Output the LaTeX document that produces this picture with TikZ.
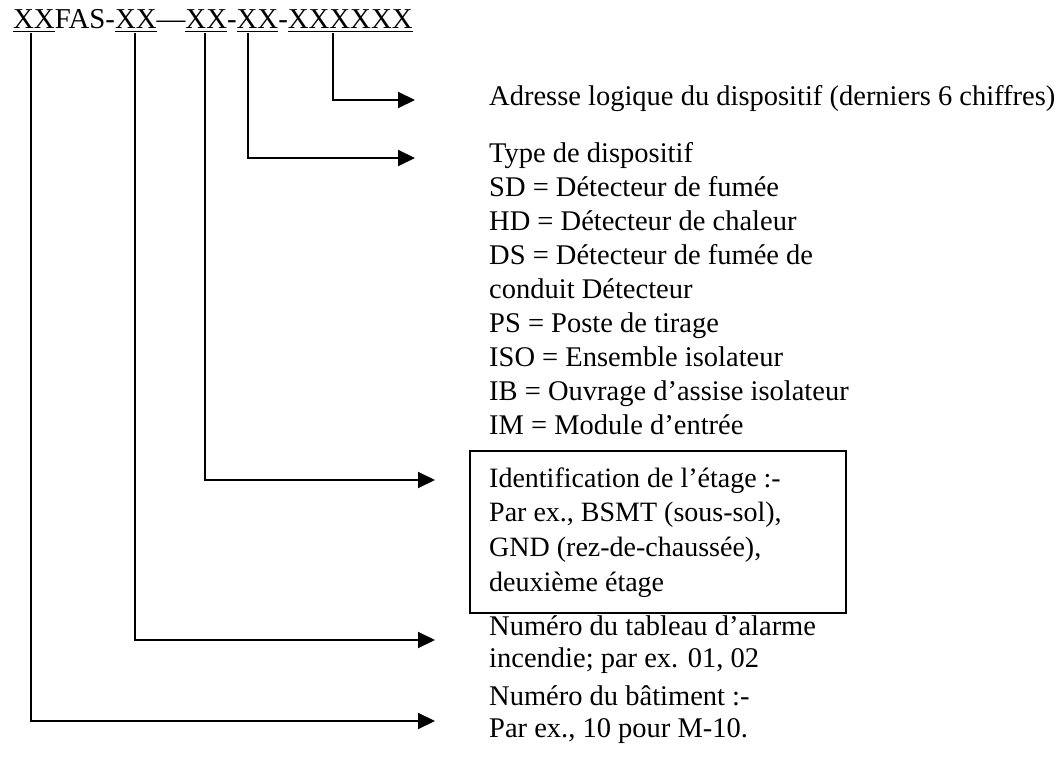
\documentclass[tikz,border=0pt]{standalone}
\usepackage{fontspec}
\setmainfont{Liberation Serif}
\usetikzlibrary{arrows.meta}
\newcommand{\uln}[1]{\setbox0\hbox{#1}\rlap{\rule[-3.5pt]{\wd0}{1.2pt}}\box0}
\newcommand{\linesA}[1]{\vtop{\halign{##\hfil\cr#1\crcr}}}
\begin{document}
\begin{tikzpicture}[x=1pt,y=-1pt,
  txt/.style={inner sep=0pt, anchor=base west, font=\fontsize{28.5}{34}\selectfont},
  txtb/.style={txt, font=\fontsize{28}{34.7}\selectfont},
  txtc/.style={txt, font=\fontsize{28.5}{32}\selectfont},
  conn/.style={-{Triangle[length=17pt,width=16pt]}, line width=2pt},
  framebox/.style={draw, line width=2pt, inner sep=0pt, minimum width=376pt, minimum height=162pt, anchor=north west}]
\useasboundingbox (0,0) rectangle (1062,757);
% code string
\node[txt, font=\fontsize{28.8}{34}\selectfont] (code) at (13,29) {\uln{XX}FAS-\uln{XX}—\uln{XX}-\uln{XX}-\uln{XXXXXX}};
\coordinate (u1) at (31,33);
\coordinate (u2) at (135,33);
\coordinate (u3) at (205,33);
\coordinate (u4) at (248,33);
\coordinate (u5) at (333,33);
% descriptions
\node[txt] (addr) at (489,106) {Adresse logique du dispositif (derniers 6 chiffres)};
\node[txt] (type) at (489,162) {\linesA{Type de dispositif\cr
SD = Détecteur de fumée\cr
HD = Détecteur de chaleur\cr
DS = Détecteur de fumée de\cr
conduit Détecteur\cr
PS = Poste de tirage\cr
ISO = Ensemble isolateur\cr
IB = Ouvrage d’assise isolateur\cr
IM = Module d’entrée}};
\node[framebox] (box) at (469,450) {};
\node[txtb] (floor) at (489,487) {\linesA{Identification de l’étage :-\cr
Par ex., BSMT (sous-sol),\cr
GND (rez-de-chaussée),\cr
deuxième étage}};
\node[txtc] (panel) at (489,635) {\linesA{Numéro du tableau d’alarme\cr
incendie; par ex. 01, 02}};
\node[txtc] (bldg) at (489,705) {\linesA{Numéro du bâtiment :-\cr
Par ex., 10 pour M-10.}};
% targets
\coordinate (t5) at (415,100);
\coordinate (t4) at (415,158);
\coordinate (t3) at (435,480);
\coordinate (t2) at (435,640);
\coordinate (t1) at (435,721);
% connectors
\draw[conn] (u5) |- (t5);
\draw[conn] (u4) |- (t4);
\draw[conn] (u3) |- (t3);
\draw[conn] (u2) |- (t2);
\draw[conn] (u1) |- (t1);
\end{tikzpicture}
\end{document}
